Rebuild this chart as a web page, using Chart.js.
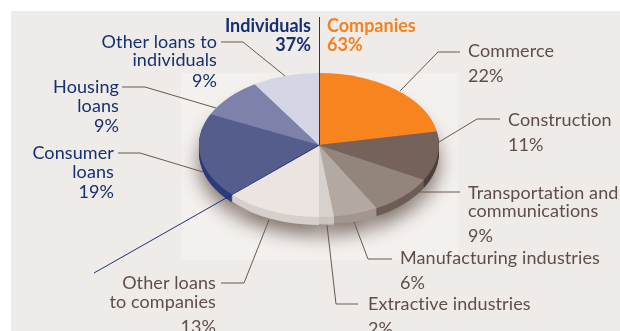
<!DOCTYPE html>
<html>
<head>
<meta charset="utf-8">
<style>
  html, body { margin: 0; padding: 0; background: #fff; }
  #wrap { width: 620px; height: 331px; }
</style>
<script src="https://cdn.jsdelivr.net/npm/chart.js@4/dist/chart.umd.min.js"></script>
</head>
<body>
<div id="wrap"><canvas id="loanChart" width="620" height="331"></canvas></div>
<script>
const categories = ['Commerce', 'Construction', 'Transportation and communications',
  'Manufacturing industries', 'Extractive industries', 'Other loans to companies',
  'Consumer loans', 'Housing loans', 'Other loans to individuals'];
const shares = [22, 11, 9, 6, 2, 13, 19, 9, 9];
const sliceColors = ['#f7841f', '#75625a', '#94857c', '#b3a9a3', '#d6d1cc', '#ebe4e0', '#555d8d', '#7e82ab', '#d4d6e6'];
const sideColors = ['#c96a16', '#4f4039', '#6e5d55', '#a2968f', '#cbc5bf', '#d6d0cc', '#2a3c7e', '#4d5488', '#a5a8c4'];

const NAVY = '#15306f';
const BROWN = '#5f4e48';
const ORANGE = '#f58220';

// label text: [x, baseline, string]
const labelBlocks = [
  { color: NAVY, align: 'right', bold: true, lines: [[311, 32, 'Individuals'], [311, 51, '37%']] },
  { color: ORANGE, align: 'left', bold: true, lines: [[327, 32, 'Companies'], [327, 51, '63%']] },
  { color: NAVY, align: 'right', lines: [[217, 48, 'Other loans to'], [217, 66, 'individuals'], [217, 87, '9%']] },
  { color: NAVY, align: 'right', lines: [[119, 93, 'Housing'], [119, 112, 'loans'], [119, 132, '9%']] },
  { color: NAVY, align: 'right', lines: [[114, 159, 'Consumer'], [114, 178, 'loans'], [114, 198, '19%']] },
  { color: BROWN, align: 'left', lines: [[468, 57, 'Commerce'], [468, 82, '22%']] },
  { color: BROWN, align: 'left', lines: [[508, 126, 'Construction'], [508, 151, '11%']] },
  { color: BROWN, align: 'left', lines: [[468, 199, 'Transportation and'], [468, 217, 'communications'], [468, 242, '9%']] },
  { color: BROWN, align: 'left', lines: [[400, 264, 'Manufacturing industries'], [400, 289, '6%']] },
  { color: BROWN, align: 'left', lines: [[368, 310, 'Extractive industries'], [368, 335, '2%']] },
  { color: BROWN, align: 'right', lines: [[216, 289, 'Other loans'], [216, 308, 'to companies'], [216, 333, '13%']] }
];

const leaderLines = [
  [[221, 42], [243, 42], [285, 76]],
  [[122, 87], [145, 87], [216, 108]],
  [[118, 153], [140, 153], [203, 172]],
  [[460, 52], [438, 52], [400, 91]],
  [[500, 119], [477, 119], [439, 142]],
  [[460, 192], [420, 192]],
  [[392, 259], [368, 259], [354, 222]],
  [[358, 304], [336, 304], [327, 225]],
  [[221, 283], [244, 283], [269, 220]]
];

const pieCenter = { x: 319, y: 145 };
const squash = 0.6;
const depth = 8;

function enterPieSpace(ctx, arc) {
  ctx.translate(pieCenter.x, pieCenter.y);
  ctx.scale(1, squash);
  ctx.translate(-arc.x, -arc.y);
}

const tiltedPie = {
  id: 'tiltedPie',
  beforeDraw(chart) {
    const ctx = chart.ctx;
    ctx.save();
    ctx.fillStyle = '#efebe8';
    ctx.fillRect(11, 11, 609, 320);
    ctx.fillStyle = '#f3f0ee';
    ctx.fillRect(181, 73, 277, 187);
    ctx.restore();
  },
  beforeDatasetsDraw(chart) {
    const ctx = chart.ctx;
    const arcs = chart.getDatasetMeta(0).data;
    // the side wall: same arcs stacked downwards in darker colours
    for (let d = depth; d >= 1; d--) {
      ctx.save();
      ctx.translate(0, d);
      if (d === depth) {
        ctx.shadowColor = 'rgba(70,50,40,0.65)';
        ctx.shadowBlur = 18;
        ctx.shadowOffsetY = 10;
      }
      enterPieSpace(ctx, arcs[0]);
      arcs.forEach((arc, i) => {
        const keep = arc.options.backgroundColor;
        arc.options.backgroundColor = sideColors[i];
        arc.draw(ctx);
        arc.options.backgroundColor = keep;
      });
      ctx.restore();
    }
    ctx.save();
    enterPieSpace(ctx, arcs[0]);
  },
  afterDatasetsDraw(chart) {
    const ctx = chart.ctx;
    ctx.restore();

    ctx.save();
    ctx.strokeStyle = '#6b5850';
    ctx.lineWidth = 1;
    leaderLines.forEach(pts => {
      ctx.beginPath();
      pts.forEach((p, i) => i ? ctx.lineTo(p[0], p[1]) : ctx.moveTo(p[0], p[1]));
      ctx.stroke();
    });
    // divider between individuals and companies
    ctx.strokeStyle = '#1a3478';
    ctx.beginPath();
    ctx.moveTo(319.5, 17);
    ctx.lineTo(319.5, 145);
    ctx.lineTo(94, 273);
    ctx.stroke();

    ctx.textBaseline = 'alphabetic';
    labelBlocks.forEach(b => {
      ctx.fillStyle = b.color;
      ctx.textAlign = b.align;
      ctx.font = (b.bold ? 'bold ' : '') + '18px Lato';
      ctx.letterSpacing = b.bold ? '0px' : '0.1px';
      b.lines.forEach(l => ctx.fillText(l[2], l[0], l[1]));
    });
    ctx.restore();
  }
};

new Chart(document.getElementById('loanChart'), {
  type: 'pie',
  data: {
    labels: categories,
    datasets: [{
      data: shares,
      backgroundColor: sliceColors,
      borderWidth: 0
    }]
  },
  options: {
    responsive: false,
    animation: false,
    radius: 120,
    plugins: { legend: { display: false }, tooltip: { enabled: false } }
  },
  plugins: [tiltedPie]
});
</script>
</body>
</html>
